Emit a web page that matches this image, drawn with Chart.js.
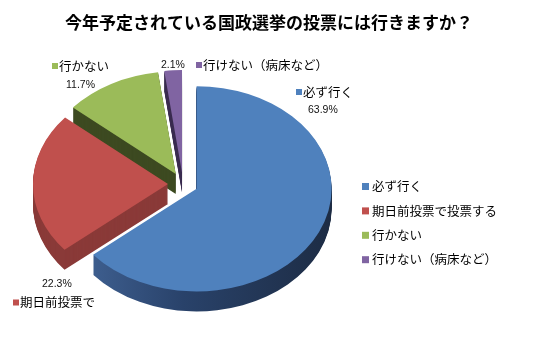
<!DOCTYPE html>
<html><head><meta charset="utf-8">
<script src="https://cdn.jsdelivr.net/npm/chart.js@4/dist/chart.umd.min.js"></script>
<style>html,body{margin:0;padding:0;background:#fff}</style>
</head><body>
<canvas id="c" width="538" height="357" style="width:538px;height:357px"></canvas>
<script>
// ---- data ----
const titleText = '今年予定されている国政選挙の投票には行きますか？';
const categories = ['必ず行く', '期日前投票で投票する', '行かない', '行けない（病床など）'];
const values = [63.9, 22.3, 11.7, 2.1];
const percentLabels = ['63.9%', '22.3%', '11.7%', '2.1%'];
// short names as shown next to slices in the picture
const sliceNames = ['必ず行く', '期日前投票で', '行かない', '行けない（病床など）'];

// ---- styles ----
const topColors = ['#4f81bd', '#c0504d', '#9bbb59', '#8064a2'];
const sideColors = ['#263c5e', '#8a3a38', '#3d4a21', '#3b2d50'];
const CJK = "'Noto Sans CJK JP', 'Noto Sans', sans-serif";
const LAT = "'Liberation Sans', Arial, sans-serif";

// geometry of the tilted pie (screen px)
const CX = 183, CY = 184, R = 135, SQ = 0.76, DEPTH = 20, EXPLODE = 15;

const pie3d = {
  id: 'pie3d',
  beforeDatasetDraw(chart, args) {
    const ctx = chart.ctx;
    const arcs = args.meta.data;
    const a0 = arcs[0];
    const k = R / a0.outerRadius;
    const setT = (dy) => {
      ctx.translate(0, dy);
      ctx.translate(CX, CY);
      ctx.scale(k, k * SQ);
      ctx.translate(-a0.x, -a0.y);
    };
    const drawOne = (arc, fill) => {
      const mid = (arc.startAngle + arc.endAngle) / 2;
      ctx.save();
      ctx.translate(Math.cos(mid) * EXPLODE / k, Math.sin(mid) * EXPLODE / k);
      const proxy = Object.create(arc);
      proxy.options = Object.assign({}, arc.options, fill ? { backgroundColor: fill, borderWidth: 0 } : {});
      arc.draw.call(proxy, ctx);
      ctx.restore();
    };
    for (let d = DEPTH; d >= 1; d--) {
      ctx.save();
      setT(d);
      arcs.forEach((arc, i) => {
        let fill = sideColors[i];
        if (i === 0) {
          const g = ctx.createLinearGradient(a0.x - a0.outerRadius, 0, a0.x + a0.outerRadius, 0);
          g.addColorStop(0, '#44679a');
          g.addColorStop(0.45, '#29426a');
          g.addColorStop(1, '#1d2c44');
          fill = g;
        }
        drawOne(arc, fill);
      });
      ctx.restore();
    }
    ctx.save();
    setT(0);
    arcs.forEach(arc => drawOne(arc, null));
    ctx.restore();
    return false;
  },
  afterDraw(chart) {
    const ctx = chart.ctx;
    ctx.save();
    ctx.textBaseline = 'middle';
    ctx.textAlign = 'left';
    const cjk = '12.5px ' + CJK;
    const pct = '10.5px ' + LAT;
    const lab = [
      { bx: 296, by: 92, px: 308, py: 110 },
      { bx: 13, by: 302.5, px: 42, py: 284 },
      { bx: 52, by: 66, px: 66, py: 85.5 },
      { bx: 196, by: 65, px: 161, py: 65 }
    ];
    lab.forEach((l, i) => {
      ctx.fillStyle = topColors[i];
      ctx.fillRect(l.bx, l.by - 3, 6, 6);
      ctx.fillStyle = '#000';
      ctx.font = cjk;
      ctx.fillText(sliceNames[i], l.bx + 7, l.by);
      ctx.fillStyle = '#111';
      ctx.font = pct;
      ctx.fillText(percentLabels[i], l.px, l.py);
    });
    // legend
    const lx = 362, ly0 = 186.5, step = 24.4;
    categories.forEach((c, i) => {
      const y = ly0 + i * step;
      ctx.fillStyle = topColors[i];
      ctx.fillRect(lx, y - 3.5, 7, 7);
      ctx.fillStyle = '#000';
      ctx.font = cjk;
      ctx.fillText(c, lx + 10, y);
    });
    ctx.restore();
  }
};

Chart.defaults.font.family = CJK;
new Chart(document.getElementById('c'), {
  type: 'pie',
  data: {
    labels: categories,
    datasets: [{
      data: values,
      backgroundColor: topColors,
      borderWidth: 0,
      clip: false
    }]
  },
  options: {
    responsive: false,
    animation: false,
    events: [],
    layout: { padding: 0 },
    plugins: {
      legend: { display: false },
      tooltip: { enabled: false },
      title: {
        display: true,
        text: titleText,
        color: '#000',
        font: { size: 17, weight: 'bold', family: CJK },
        padding: { top: 12, bottom: 8 }
      }
    }
  },
  plugins: [pie3d]
});
</script>
</body></html>
